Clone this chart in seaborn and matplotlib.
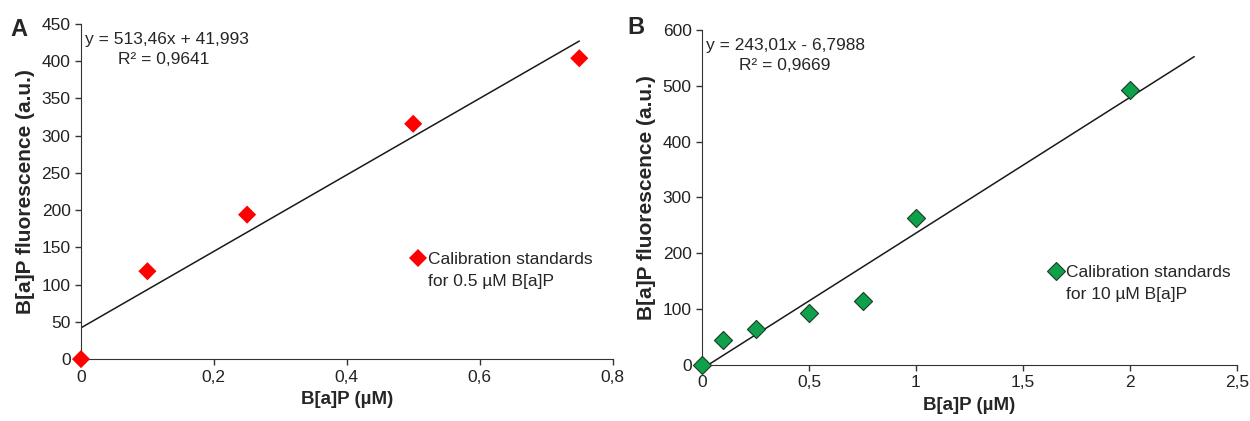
import numpy as np
import pandas as pd
import matplotlib
matplotlib.use("Agg")
import matplotlib.pyplot as plt
from matplotlib.lines import Line2D
import seaborn as sns

sns.set_style("ticks")
plt.rcParams['font.family'] = ['Liberation Sans', 'DejaVu Sans']

# Panel A data
a_x = [0, 0.1, 0.25, 0.5, 0.75]
a_y = [0, 118, 194, 316, 404]
a_slope, a_intercept = 513.46, 41.993
a_fit_range = [0, 0.75]
a_xticks = [0, 0.2, 0.4, 0.6, 0.8]
a_xticklabels = ["0", "0,2", "0,4", "0,6", "0,8"]
a_yticks = [0, 50, 100, 150, 200, 250, 300, 350, 400, 450]

# Panel B data
b_x = [0, 0.1, 0.25, 0.5, 0.75, 1, 2]
b_y = [0, 45, 64, 94, 115, 263, 492]
b_slope, b_intercept = 243.01, -6.7988
b_fit_range = [0, 2.3]
b_xticks = [0, 0.5, 1, 1.5, 2, 2.5]
b_xticklabels = ["0", "0,5", "1", "1,5", "2", "2,5"]
b_yticks = [0, 100, 200, 300, 400, 500, 600]

fig = plt.figure(figsize=(12.5, 4.21), dpi=100)
axA = fig.add_axes([0.0648, 0.147, 0.4252, 0.796])
axB = fig.add_axes([0.5616, 0.133, 0.428, 0.796])

def draw(ax, xs, ys, slope, intercept, rng, color, edge, xt, xtl, yt, eq, r2,
         letter, letter_xy, legend_lines, legend_xy):
    fx = np.array(rng)
    fit = pd.DataFrame({"x": fx, "y": slope * fx + intercept})
    sns.lineplot(data=fit, x="x", y="y", ax=ax, color="#1a1a1a", lw=1.1, legend=False)
    df = pd.DataFrame({"x": xs, "y": ys})
    sns.scatterplot(data=df, x="x", y="y", ax=ax, marker="D", s=85, color=color,
                    edgecolor=edge, linewidth=0.8 if edge != "none" else 0,
                    zorder=5, clip_on=False, legend=False)
    ax.set_xlim(xt[0], xt[-1])
    ax.set_ylim(yt[0], yt[-1])
    ax.set_xticks(xt)
    ax.set_xticklabels(xtl)
    ax.set_yticks(yt)
    ax.tick_params(labelsize=12.5, length=4, width=1, color="#333333", labelcolor="#222222")
    for s in ["left", "bottom"]:
        ax.spines[s].set_color("#333333")
    sns.despine(ax=ax)
    ax.set_xlabel("B[a]P (µM)", fontsize=13.5, fontweight="bold", labelpad=5)
    ax.set_ylabel("B[a]P fluorescence (a.u.)", fontsize=15, fontweight="bold", labelpad=5)
    ax.text(0.008, 0.975, eq, transform=ax.transAxes, fontsize=12.5, va="top", ha="left")
    ax.text(0.07, 0.915, r2, transform=ax.transAxes, fontsize=12.5, va="top", ha="left")
    ax.text(letter_xy[0], letter_xy[1], letter, transform=ax.transAxes, fontsize=17,
            fontweight="bold", va="center", ha="left")
    h1 = Line2D([], [], marker="D", linestyle="none", markersize=9,
                markerfacecolor=color,
                markeredgecolor=edge if edge != "none" else color,
                markeredgewidth=0.8 if edge != "none" else 0)
    h2 = Line2D([], [], linestyle="none")
    ax.legend([h1, h2], legend_lines, loc="center left", bbox_to_anchor=legend_xy,
              frameon=False, fontsize=12.5, handlelength=0.8, handletextpad=0.15,
              borderpad=0, borderaxespad=0, labelspacing=0.42)

draw(axA, a_x, a_y, a_slope, a_intercept, a_fit_range, "#ff0000", "none",
     a_xticks, a_xticklabels, a_yticks,
     "y = 513,46x + 41,993", "R² = 0,9641", "A", (-0.132, 0.985),
     ["Calibration standards", "for 0.5 µM B[a]P"], (0.621, 0.264))
draw(axB, b_x, b_y, b_slope, b_intercept, b_fit_range, "#0ea04a", "#1a3d24",
     b_xticks, b_xticklabels, b_yticks,
     "y = 243,01x - 6,7988", "R² = 0,9669", "B", (-0.14, 1.007),
     ["Calibration standards", "for 10 µM B[a]P"], (0.649, 0.244))

fig.savefig("out.png", dpi=100)
